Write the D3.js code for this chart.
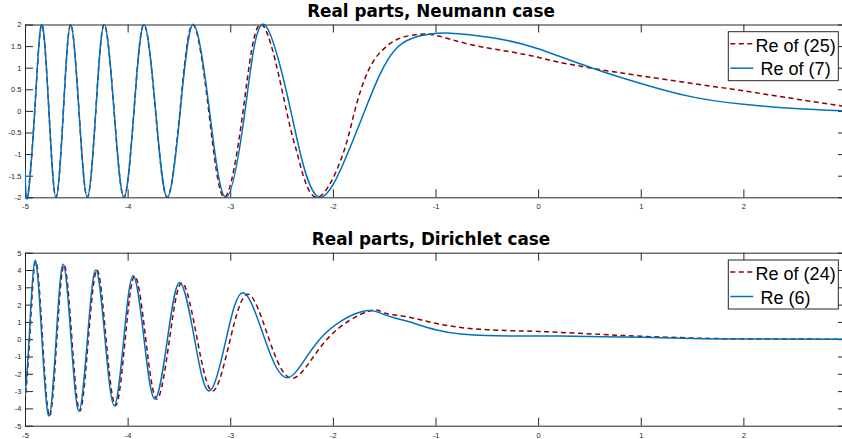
<!DOCTYPE html>
<html>
<head>
<meta charset="utf-8">
<script src="https://cdn.jsdelivr.net/npm/d3@7"></script>
<style>
  body { margin: 0; background: #fff; }
  svg { display: block; }
  .tick text { font-family: "Liberation Sans", Arial, sans-serif; font-size: 7.5px; fill: #262626; }
  .tick line, .domain { stroke: #262626; }
  .title { font-family: "DejaVu Sans", sans-serif; font-weight: bold; font-size: 16.8px; fill: #000; }
  .legend text { font-family: "Liberation Sans", Arial, sans-serif; font-size: 18px; fill: #000; white-space: pre; }
</style>
</head>
<body>
<svg id="fig" width="842" height="439"></svg>
<script>
const xTicks = [-5, -4, -3, -2, -1, 0, 1, 2];
const xTickLabels = ["-5", "-4", "-3", "-2", "-1", "0", "1", "2"];

const neuYTicks = [-2, -1.5, -1, -0.5, 0, 0.5, 1, 1.5, 2];
const neuYTickLabels = ["-2", "-1.5", "-1", "-0.5", "0", "0.5", "1", "1.5", "2"];
const dirYTicks = [-5, -4, -3, -2, -1, 0, 1, 2, 3, 4, 5];
const dirYTickLabels = ["-5", "-4", "-3", "-2", "-1", "0", "1", "2", "3", "4", "5"];

const titles = ["Real parts, Neumann case", "Real parts, Dirichlet case"];
const neuLabels = ["Re of (25)", " Re of (7)"];
const dirLabels = ["Re of (24)", " Re (6)"];

// Neumann, Re of (25) (dashed)
const neu25X = [-5, -4.974, -4.905, -4.837, -4.767, -4.698, -4.626, -4.555, -4.474, -4.393, -4.31, -4.228,
  -4.132, -4.036, -3.938, -3.841, -3.728, -3.614, -3.49, -3.365, -3.21, -3.058, -2.875, -2.693,
  -2.452, -2.34, -2.167, -1.917, -1.787, -1.657, -1.52, -1.37, -1.19, -1.0, -0.667,
  -0.3, 0, 0.2, 0.567, 1.0, 1.5, 2.0, 2.5, 3.0];
const neu25Y = [-1.5, -2, 0, 2, 0, -2, 0, 2, 0, -2, 0, 2,
  0, -2, 0, 2, 0, -2, 0, 2, 0, -2, 0, 2,
  0, -1.05, -2, -1.1, 0, 0.92, 1.4, 1.66, 1.765, 1.75, 1.54,
  1.38, 1.24, 1.13, 0.97, 0.81, 0.636, 0.464, 0.28, 0.1];

// Neumann, Re of (7) (solid)
const neu7X = [-5, -4.974, -4.905, -4.837, -4.767, -4.698, -4.626, -4.555, -4.474, -4.393, -4.31, -4.228,
  -4.132, -4.036, -3.938, -3.841, -3.727, -3.614, -3.487, -3.361, -3.202, -3.043, -2.856, -2.67,
  -2.41, -2.31, -2.128, -1.868, -1.69, -1.54, -1.4, -1.25, -1.05, -0.86, -0.667,
  -0.3, 0, 0.2, 0.567, 1.0, 1.5, 2.0, 2.5, 3.0];
const neu7Y = [-1.36, -2, 0, 2, 0, -2, 0, 2, 0, -2, 0, 2,
  0, -2, 0, 2, 0, -2, 0, 2, 0, -2, 0, 2,
  0, -1.05, -2, -1.05, 0, 0.85, 1.4, 1.66, 1.78, 1.8, 1.76,
  1.63, 1.44, 1.27, 0.96, 0.636, 0.325, 0.155, 0.055, 0];

// Dirichlet, Re of (24) (dashed)
const dir24X = [-5, -4.955, -4.897, -4.829, -4.76, -4.69, -4.619, -4.543, -4.465, -4.383, -4.298, -4.21,
  -4.117, -4.024, -3.93, -3.823, -3.714, -3.592, -3.47, -3.322, -3.17, -3.0, -2.826, -2.622,
  -2.388, -2.057, -1.656, -1.5, -1.283, -1.0, -0.667, -0.3, 0, 0.2, 0.6, 1.0, 1.5, 2.0, 3.0];
const dir24Y = [-3.6, 0, 4.5, 0, -4.44, 0, 4.3, 0, -4.15, 0, 4.0, 0,
  -3.84, 0, 3.65, 0, -3.46, 0, 3.25, 0, -3.0, 0, 2.6, 0,
  -2.26, 0, 1.61, 1.52, 1.3, 0.92, 0.62, 0.5, 0.45, 0.4, 0.28, 0.17, 0.07, 0.02, 0];

// Dirichlet, Re (6) (solid)
const dir6X = [-5, -4.96, -4.903, -4.835, -4.766, -4.697, -4.627, -4.551, -4.474, -4.392, -4.309, -4.22,
  -4.13, -4.038, -3.945, -3.84, -3.734, -3.612, -3.491, -3.348, -3.205, -3.04, -2.874, -2.663,
  -2.436, -2.128, -1.722, -1.5, -1.283, -1.0, -0.75, -0.5, -0.2, 0.2, 1.0, 1.5, 2.0, 3.0];
const dir6Y = [-3.3, 0, 4.54, 0, -4.44, 0, 4.33, 0, -4.15, 0, 4.0, 0,
  -3.84, 0, 3.67, 0, -3.46, 0, 3.27, 0, -2.99, 0, 2.69, 0,
  -2.22, 0, 1.59, 1.42, 1.05, 0.55, 0.3, 0.21, 0.19, 0.18, 0.11, 0.04, 0.01, 0];

const red = "#8c0000";
const blue = "#0072bd";

let svg = d3.select("#fig");

const left = 25, right = 846;
let x = d3.scaleLinear().domain([-5, 3]).range([left, right]);

panel({
  id: "neu", top: 24.5, bottom: 197.3, ydom: [-2, 2],
  yticks: neuYTicks, ylabels: neuYTickLabels, title: titles[0], titleY: 17,
  series: [[neu25X, neu25Y], [neu7X, neu7Y]], labels: neuLabels, legendY: 31.7
});
panel({
  id: "dir", top: 252.7, bottom: 425.7, ydom: [-5, 5],
  yticks: dirYTicks, ylabels: dirYTickLabels, title: titles[1], titleY: 245,
  series: [[dir24X, dir24Y], [dir6X, dir6Y]], labels: dirLabels, legendY: 260
});

function panel(p) {
  let y = d3.scaleLinear().domain(p.ydom).range([p.bottom, p.top]);
  let g = svg.append("g");

  g.append("rect")
    .attr("x", left).attr("y", p.top)
    .attr("width", right - left).attr("height", p.bottom - p.top)
    .attr("fill", "#fff");

  let xl = (d) => xTickLabels[xTicks.indexOf(d)];
  let yl = (d) => p.ylabels[p.yticks.indexOf(d)];

  g.append("g")
    .attr("transform", `translate(0,${p.bottom})`)
    .call(d3.axisBottom(x).tickValues(xTicks).tickFormat(xl).tickSizeInner(-8).tickSizeOuter(0).tickPadding(6.5));
  g.append("g")
    .attr("transform", `translate(0,${p.top})`)
    .call(d3.axisTop(x).tickValues(xTicks).tickFormat("").tickSizeInner(-8).tickSizeOuter(0));
  g.append("g")
    .attr("transform", `translate(${left},0)`)
    .call(d3.axisLeft(y).tickValues(p.yticks).tickFormat(yl).tickSizeInner(-8).tickSizeOuter(0).tickPadding(3.5));
  g.append("g")
    .attr("transform", `translate(${right},0)`)
    .call(d3.axisRight(y).tickValues(p.yticks).tickFormat("").tickSizeInner(-8).tickSizeOuter(0));

  g.selectAll(".domain, .tick line").attr("stroke-width", 1);

  svg.append("clipPath").attr("id", "clip-" + p.id)
    .append("rect")
    .attr("x", left).attr("y", p.top - 2)
    .attr("width", right - left).attr("height", p.bottom - p.top + 4);

  let line = d3.line()
    .x((d) => x(d[0]))
    .y((d) => y(d[1]))
    .curve(d3.curveNatural);

  let styles = [
    { color: red, dash: "5,3.5" },
    { color: blue, dash: null }
  ];

  p.series.forEach((s, i) => {
    g.append("path")
      .datum(d3.zip(s[0], s[1]))
      .attr("clip-path", `url(#clip-${p.id})`)
      .attr("fill", "none")
      .attr("stroke", styles[i].color)
      .attr("stroke-width", 1.5)
      .attr("stroke-dasharray", styles[i].dash)
      .attr("d", line);
  });

  g.append("text")
    .classed("title", true)
    .text(p.title)
    .attr("x", 431)
    .attr("y", p.titleY)
    .style("text-anchor", "middle");

  // legend
  let lg = g.append("g").classed("legend", true)
    .attr("transform", `translate(728.3,${p.legendY})`);
  lg.append("rect")
    .attr("width", 110).attr("height", 49)
    .attr("fill", "#fff")
    .attr("stroke", "#262626")
    .attr("stroke-width", 1);
  p.labels.forEach((t, i) => {
    lg.append("line")
      .attr("x1", 2).attr("x2", 25)
      .attr("y1", 12 + i * 24.5).attr("y2", 12 + i * 24.5)
      .attr("stroke", styles[i].color)
      .attr("stroke-width", 1.5)
      .attr("stroke-dasharray", styles[i].dash);
    lg.append("text")
      .text(t)
      .attr("x", 27.3)
      .attr("y", 20 + i * 23.8);
  });
}
</script>
</body>
</html>
